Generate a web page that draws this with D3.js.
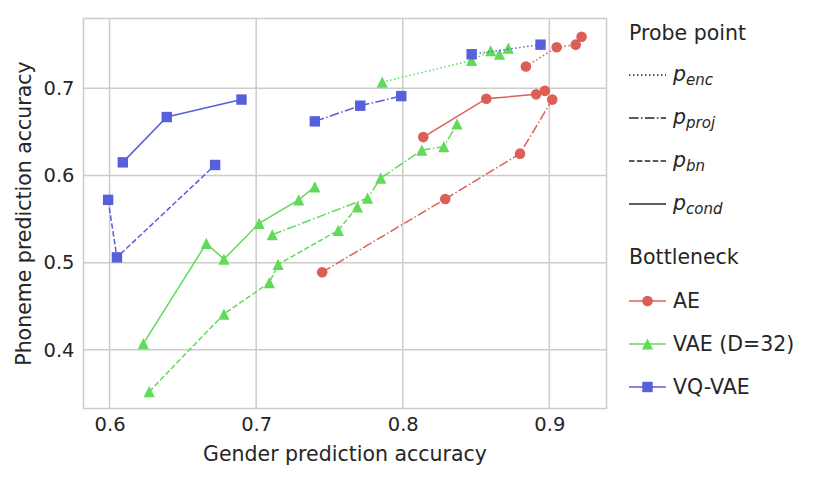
<!DOCTYPE html>
<html>
<head>
<meta charset="utf-8">
<script src="https://cdn.jsdelivr.net/npm/d3@7"></script>
<style>
  body { margin: 0; background: #fff; }
  svg { font-family: "DejaVu Sans", sans-serif; }
  .tick text { fill: #262626; font-size: 19.5px; }
  .axisTitle { fill: #262626; font-size: 20.5px; }
  .legText { fill: #262626; font-size: 20.5px; }
</style>
</head>
<body>
<svg id="chart" width="821" height="481"></svg>
<script>
// gender accuracy (x) / phoneme accuracy (y) per bottleneck and probe point
const aeEnc = [[0.884, 0.725], [0.905, 0.747], [0.918, 0.750], [0.922, 0.759]];
const aeProj = [[0.745, 0.489], [0.829, 0.573], [0.880, 0.625], [0.902, 0.687]];
const aeCond = [[0.814, 0.644], [0.857, 0.688], [0.891, 0.693], [0.897, 0.697]];

const vaeEnc = [[0.786, 0.707], [0.847, 0.732], [0.860, 0.743], [0.866, 0.739], [0.872, 0.746]];
const vaeProj = [[0.711, 0.532], [0.776, 0.574], [0.785, 0.597], [0.813, 0.629], [0.828, 0.633], [0.837, 0.659]];
const vaeBn = [[0.627, 0.352], [0.678, 0.441], [0.709, 0.477], [0.715, 0.498], [0.756, 0.537], [0.769, 0.564]];
const vaeCond = [[0.623, 0.407], [0.666, 0.522], [0.678, 0.504], [0.702, 0.545], [0.729, 0.572], [0.740, 0.587]];

const vqEnc = [[0.847, 0.739], [0.894, 0.750]];
const vqProj = [[0.740, 0.662], [0.771, 0.680], [0.799, 0.691]];
const vqBn = [[0.599, 0.572], [0.605, 0.506], [0.672, 0.612]];
const vqCond = [[0.609, 0.615], [0.639, 0.667], [0.690, 0.687]];

const xTicks = [0.6, 0.7, 0.8, 0.9];
const yTicks = [0.4, 0.5, 0.6, 0.7];

const bottlenecks = ["AE", "VAE (D=32)", "VQ-VAE"];
const bnColors = ["#db5f57", "#5fdb57", "#575fdb"];
const bnMarkers = ["circle", "triangle", "square"];

const probes = ["enc", "proj", "bn", "cond"];
const probeDash = {
  enc: "1.5,2.5",
  proj: "9.6,2.4,1.5,2.4",
  bn: "5.5,2.4",
  cond: null
};

const series = [
  { b: 0, p: "enc", pts: aeEnc },
  { b: 0, p: "proj", pts: aeProj },
  { b: 0, p: "cond", pts: aeCond },
  { b: 1, p: "enc", pts: vaeEnc },
  { b: 1, p: "proj", pts: vaeProj },
  { b: 1, p: "bn", pts: vaeBn },
  { b: 1, p: "cond", pts: vaeCond },
  { b: 2, p: "enc", pts: vqEnc },
  { b: 2, p: "proj", pts: vqProj },
  { b: 2, p: "bn", pts: vqBn },
  { b: 2, p: "cond", pts: vqCond }
];

const svg = d3.select("#chart");
const plot = { left: 83.5, right: 606.5, top: 18.5, bottom: 408.5 };

const x = d3.scaleLinear().domain([0.5822, 0.9390]).range([plot.left, plot.right]);
const y = d3.scaleLinear().domain([0.3327, 0.7800]).range([plot.bottom, plot.top]);

// grid
const grid = svg.append("g");
grid.selectAll(".gx").data(xTicks).enter().append("line")
  .attr("x1", d => x(d)).attr("x2", d => x(d))
  .attr("y1", plot.top).attr("y2", plot.bottom)
  .attr("stroke", "#cccccc").attr("stroke-width", 1.5);
grid.selectAll(".gy").data(yTicks).enter().append("line")
  .attr("y1", d => y(d)).attr("y2", d => y(d))
  .attr("x1", plot.left).attr("x2", plot.right)
  .attr("stroke", "#cccccc").attr("stroke-width", 1.5);

// frame
svg.append("rect")
  .attr("x", plot.left).attr("y", plot.top)
  .attr("width", plot.right - plot.left).attr("height", plot.bottom - plot.top)
  .attr("fill", "none").attr("stroke", "#cccccc").attr("stroke-width", 1.5);

// axes, only for labels
const xAxis = svg.append("g")
  .attr("transform", `translate(0,${plot.bottom})`)
  .call(d3.axisBottom(x).tickValues(xTicks).tickFormat(d3.format(".1f")).tickSize(0).tickPadding(9));
xAxis.select(".domain").remove();

const yAxis = svg.append("g")
  .attr("transform", `translate(${plot.left},0)`)
  .call(d3.axisLeft(y).tickValues(yTicks).tickFormat(d3.format(".1f")).tickSize(0).tickPadding(9));
yAxis.select(".domain").remove();
svg.selectAll(".tick text").attr("font-family", "DejaVu Sans");

svg.append("text")
  .attr("class", "axisTitle")
  .attr("x", (plot.left + plot.right) / 2)
  .attr("y", 461)
  .attr("text-anchor", "middle")
  .text("Gender prediction accuracy");

svg.append("text")
  .attr("class", "axisTitle")
  .attr("transform", `translate(31,${(plot.top + plot.bottom) / 2}) rotate(-90)`)
  .attr("text-anchor", "middle")
  .text("Phoneme prediction accuracy");

const line = d3.line().x(d => x(d[0])).y(d => y(d[1]));

function drawMarker(g, kind, color, cx, cy) {
  if (kind === "circle") {
    g.append("circle").attr("cx", cx).attr("cy", cy).attr("r", 5.3).attr("fill", color);
  } else if (kind === "square") {
    g.append("rect").attr("x", cx - 5.2).attr("y", cy - 5.2).attr("width", 10.4).attr("height", 10.4).attr("fill", color);
  } else {
    const s = 5.6;
    g.append("path")
      .attr("d", `M${cx},${cy - s}L${cx - s},${cy + s}L${cx + s},${cy + s}Z`)
      .attr("fill", color);
  }
}

const marks = svg.append("g");
for (const s of series) {
  const color = bnColors[s.b];
  const g = marks.append("g");
  g.append("path")
    .attr("d", line(s.pts))
    .attr("fill", "none")
    .attr("stroke", color)
    .attr("stroke-width", 1.5)
    .attr("stroke-dasharray", probeDash[s.p]);
  for (const p of s.pts) drawMarker(g, bnMarkers[s.b], color, x(p[0]), y(p[1]));
}

// legend
const leg = svg.append("g");
const lx = 629;
leg.append("text").attr("class", "legText").attr("x", lx).attr("y", 40).text("Probe point");

const probeY = [75, 118, 161, 204];
probes.forEach((p, i) => {
  const yy = probeY[i];
  leg.append("line")
    .attr("x1", lx).attr("x2", lx + 37).attr("y1", yy).attr("y2", yy)
    .attr("stroke", "#262626").attr("stroke-width", 1.5)
    .attr("stroke-dasharray", probeDash[p]);
  const t = leg.append("text").attr("class", "legText").attr("x", lx + 44).attr("y", yy + 6)
    .style("font-style", "italic");
  t.append("tspan").text("p");
  t.append("tspan").attr("dy", 4).style("font-size", "15px").text(p);
});

leg.append("text").attr("class", "legText").attr("x", lx).attr("y", 264).text("Bottleneck");

const bnY = [301, 344, 387];
bottlenecks.forEach((b, i) => {
  const yy = bnY[i];
  leg.append("line")
    .attr("x1", lx).attr("x2", lx + 37).attr("y1", yy).attr("y2", yy)
    .attr("stroke", bnColors[i]).attr("stroke-width", 1.5);
  drawMarker(leg, bnMarkers[i], bnColors[i], lx + 18.5, yy);
  leg.append("text").attr("class", "legText").attr("x", lx + 44).attr("y", yy + 7).text(b);
});
</script>
</body>
</html>
